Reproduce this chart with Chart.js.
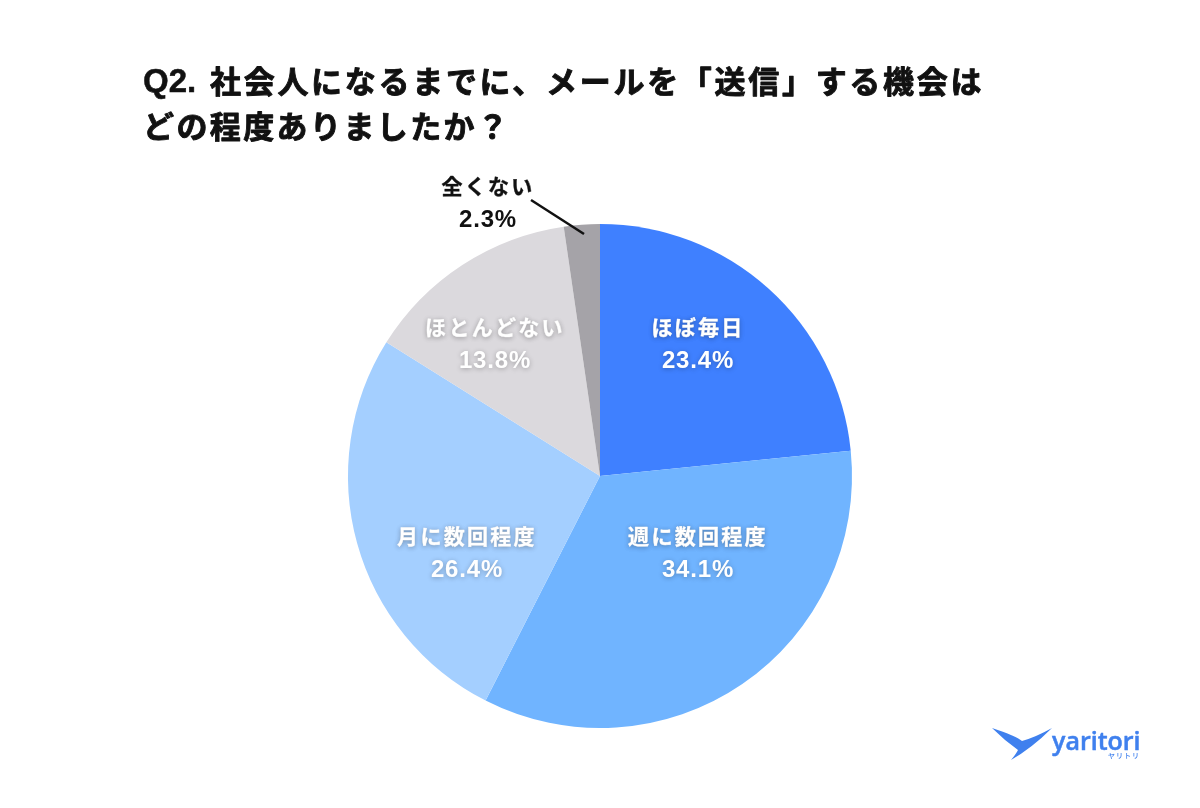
<!DOCTYPE html>
<html>
<head>
<meta charset="utf-8">
<style>
  html, body { margin: 0; padding: 0; background: #fff; }
  #wrap { width: 1200px; height: 808px; position: relative; }
</style>
<script src="https://cdn.jsdelivr.net/npm/chart.js@4/dist/chart.umd.min.js"></script>
</head>
<body>
<div id="wrap"><canvas id="myChart" width="1200" height="808"></canvas></div>
<script>
const categories = ['ほぼ毎日', '週に数回程度', '月に数回程度', 'ほとんどない', '全くない'];
const shares = [23.4, 34.1, 26.4, 13.8, 2.3];
const sliceColors = ['#3f80ff', '#70b4ff', '#a4cfff', '#dbd9dd', '#a5a3a8'];
const titleNumber = 'Q2.';
const titleLines = ['社会人になるまでに、メールを「送信」する機会は', 'どの程度ありましたか？'];

// label centres, [x, y] of the category line, percent sits 32px under it
const labelSpots = [[698, 329], [698, 538], [467, 538], [495, 329], [488, 188]];
const jpFont = '"Liberation Sans", "Noto Sans CJK JP", sans-serif';

// fill plus a thin outline, the source type is heavier than the installed bold
function heavyText(c, text, x, y, extra) {
    c.lineWidth = extra;
    c.lineJoin = 'round';
    c.strokeStyle = c.fillStyle;
    c.strokeText(text, x, y);
    c.fillText(text, x, y);
}

const extras = {
    id: 'extras',
    afterDraw(chart) {
        const c = chart.ctx;
        c.save();

        // title
        c.fillStyle = '#111';
        c.textAlign = 'left';
        c.textBaseline = 'middle';
        c.font = '700 33px ' + jpFont;
        c.letterSpacing = '0px';
        heavyText(c, titleNumber, 143, 83, 0.5);
        c.font = '700 31px ' + jpFont;
        c.letterSpacing = '2.7px';
        heavyText(c, titleLines[0], 210, 84, 0.9);
        c.letterSpacing = '2.4px';
        heavyText(c, titleLines[1], 143, 129, 0.9);

        // slice labels
        c.textAlign = 'center';
        categories.forEach((name, i) => {
            const [x, y] = labelSpots[i];
            const outside = i === 4;
            c.fillStyle = outside ? '#111' : '#fff';
            c.shadowColor = outside ? 'rgba(255,255,255,0.8)' : 'rgba(0,0,0,0.28)';
            c.shadowBlur = 5;
            c.shadowOffsetY = 1;
            c.font = '700 21px ' + jpFont;
            c.letterSpacing = '2.3px';
            heavyText(c, name, x, y, 0.5);
            c.font = '700 24px ' + jpFont;
            c.letterSpacing = '0.8px';
            c.fillText(shares[i].toFixed(1) + '%', x, y + 32);
        });
        c.shadowColor = 'transparent';
        c.shadowBlur = 0;
        c.shadowOffsetY = 0;

        // leader line for the small slice
        c.strokeStyle = '#111';
        c.lineWidth = 2.5;
        c.beginPath();
        c.moveTo(531, 200);
        c.lineTo(584, 234);
        c.stroke();

        // logo
        c.fillStyle = '#3f80ee';
        c.beginPath();
        c.moveTo(992, 728);
        c.quadraticCurveTo(1016, 736, 1022, 741);
        c.quadraticCurveTo(1036, 737, 1052, 728);
        c.quadraticCurveTo(1032, 748, 1011, 760);
        c.quadraticCurveTo(1016, 754, 1018, 750);
        c.quadraticCurveTo(1004, 740, 992, 728);
        c.fill();
        c.font = '600 25px "Open Sans", sans-serif';
        c.letterSpacing = '0px';
        c.textAlign = 'left';
        c.textBaseline = 'alphabetic';
        heavyText(c, 'yaritori', 1052, 750, 0.5);
        c.font = '500 7px "Noto Sans CJK JP"';
        c.letterSpacing = '1px';
        c.fillText('ヤリトリ', 1108, 758);
        c.restore();
    }
};

const ctx = document.getElementById('myChart').getContext('2d');
const myChart = new Chart(ctx, {
    type: 'pie',
    data: {
        labels: categories,
        datasets: [{
            data: shares,
            backgroundColor: sliceColors,
            borderWidth: 0
        }]
    },
    options: {
        responsive: false,
        animation: false,
        layout: { padding: { top: 224, bottom: 80, left: 0, right: 0 } },
        plugins: {
            legend: { display: false },
            tooltip: { enabled: false }
        }
    },
    plugins: [extras]
});
</script>
</body>
</html>
